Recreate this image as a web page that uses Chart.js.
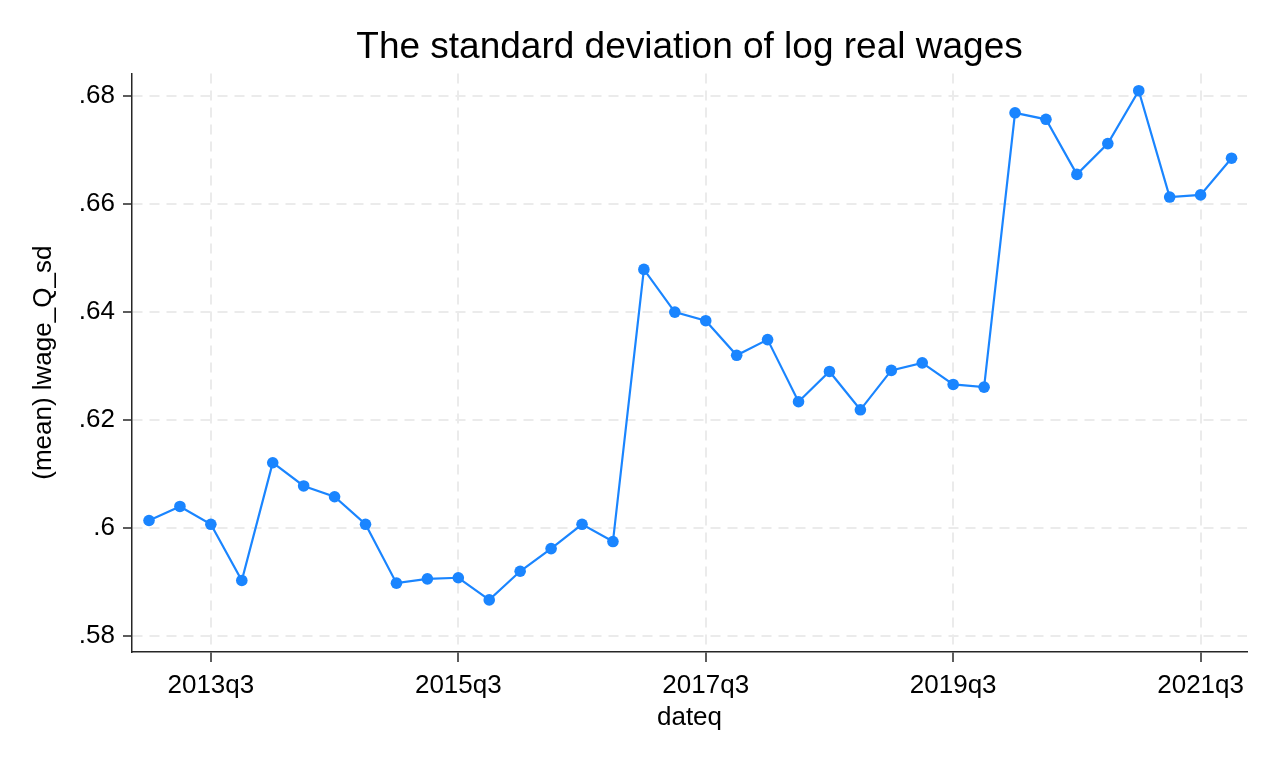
<!DOCTYPE html>
<html>
<head>
<meta charset="utf-8">
<title>The standard deviation of log real wages</title>
<script src="https://cdn.jsdelivr.net/npm/chart.js@4.4.1/dist/chart.umd.min.js"></script>
<style>
  html, body { margin: 0; padding: 0; background: #fff; }
  canvas { display: block; }
</style>
</head>
<body>
<canvas id="wageChart" width="1275" height="765"></canvas>
<script>
const quarters = [
  "2013q1", "2013q2", "2013q3", "2013q4",
  "2014q1", "2014q2", "2014q3", "2014q4",
  "2015q1", "2015q2", "2015q3", "2015q4",
  "2016q1", "2016q2", "2016q3", "2016q4",
  "2017q1", "2017q2", "2017q3", "2017q4",
  "2018q1", "2018q2", "2018q3", "2018q4",
  "2019q1", "2019q2", "2019q3", "2019q4",
  "2020q1", "2020q2", "2020q3", "2020q4",
  "2021q1", "2021q2", "2021q3", "2021q4"
];

// (mean) lwage_Q_sd
const lwageSd = [
  0.6013, 0.6039, 0.6006, 0.5902,
  0.6120, 0.6077, 0.6057, 0.6006,
  0.5897, 0.5905, 0.5907, 0.5866,
  0.5919, 0.5961, 0.6006, 0.5974,
  0.6478, 0.6399, 0.6383, 0.6319,
  0.6348, 0.6233, 0.6289, 0.6218,
  0.6291, 0.6305, 0.6265, 0.6260,
  0.6768, 0.6756, 0.6654, 0.6711,
  0.6809, 0.6612, 0.6616, 0.6684
];

const xTickLabels = ["2013q3", "2015q3", "2017q3", "2019q3", "2021q3"];
const yTickValues = [0.58, 0.60, 0.62, 0.64, 0.66, 0.68];
const yTickLabels = [".58", ".6", ".62", ".64", ".66", ".68"];

const FONT = "'Liberation Sans', Arial, sans-serif";
const blue = "#1a85ff";
const gridGray = "#ebebeb";
const axisBlack = "#262626";

const points = quarters.map((q, i) => ({ x: i, y: lwageSd[i] }));

const ctx = document.getElementById("wageChart").getContext("2d");
new Chart(ctx, {
  type: "line",
  data: {
    datasets: [{
      label: "(mean) lwage_Q_sd",
      data: points,
      borderColor: blue,
      backgroundColor: blue,
      borderWidth: 2.2,
      pointRadius: 5.8,
      pointBorderWidth: 0,
      pointBackgroundColor: blue,
      tension: 0,
      clip: false
    }]
  },
  options: {
    responsive: false,
    animation: false,
    devicePixelRatio: 1,
    layout: { padding: { left: 0, right: 28, top: 0, bottom: 0 } },
    plugins: {
      legend: { display: false },
      tooltip: { enabled: false },
      title: {
        display: true,
        text: "The standard deviation of log real wages",
        color: "#000",
        fullSize: false,
        font: { family: FONT, size: 37, weight: "normal", lineHeight: 1.2 },
        padding: { top: 26, bottom: 3 }
      }
    },
    scales: {
      x: {
        type: "linear",
        min: -0.55,
        max: 35.5,
        afterBuildTicks: (scale) => {
          scale.ticks = xTickLabels.map(l => ({ value: quarters.indexOf(l) }));
        },
        afterFit: (scale) => { scale.height = 113; },
        ticks: {
          autoSkip: false,
          maxRotation: 0,
          padding: 8,
          color: "#000",
          font: { family: FONT, size: 26 },
          callback: (v) => quarters[v]
        },
        grid: {
          color: gridGray,
          lineWidth: 2,
          drawTicks: true,
          tickLength: 10,
          tickColor: axisBlack,
          tickWidth: 1.5
        },
        border: { display: true, color: axisBlack, width: 1.5, dash: [10, 7] },
        title: {
          display: true,
          text: "dateq",
          color: "#000",
          font: { family: FONT, size: 26, lineHeight: 1.2 },
          padding: { top: 0, bottom: 32 }
        }
      },
      y: {
        min: 0.57695,
        max: 0.6841,
        afterBuildTicks: (scale) => {
          scale.ticks = yTickValues.map(v => ({ value: v }));
        },
        afterFit: (scale) => { scale.width = 132; },
        ticks: {
          padding: 8,
          color: "#000",
          font: { family: FONT, size: 26 },
          callback: (v, i) => yTickLabels[i]
        },
        grid: {
          color: gridGray,
          lineWidth: 2,
          drawTicks: true,
          tickLength: 9,
          tickColor: axisBlack,
          tickWidth: 1.5
        },
        border: { display: true, color: axisBlack, width: 1.5, dash: [10, 7] },
        title: {
          display: true,
          text: "(mean) lwage_Q_sd",
          color: "#000",
          font: { family: FONT, size: 26, lineHeight: 1.2 },
          padding: { top: 28, bottom: 0 }
        }
      }
    }
  }
});
</script>
</body>
</html>
